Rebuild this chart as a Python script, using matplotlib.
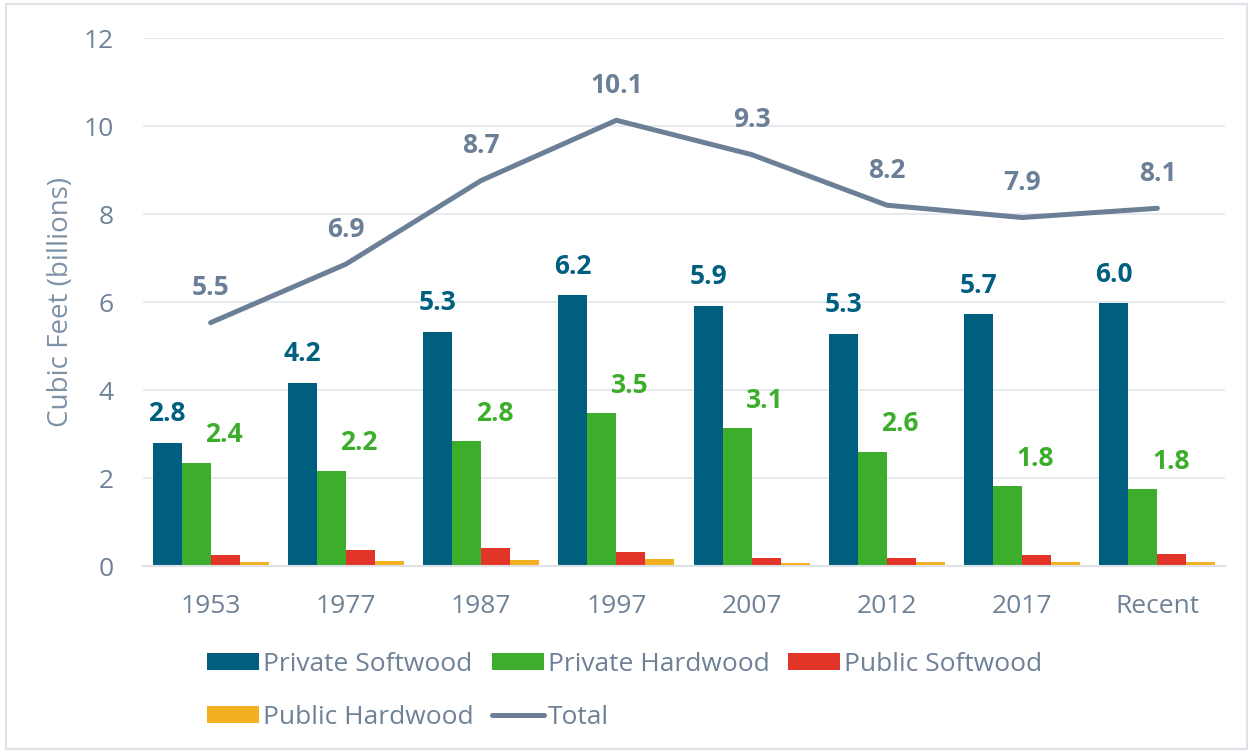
import numpy as np
import matplotlib
matplotlib.use('Agg')
import matplotlib.pyplot as plt
from matplotlib.patches import Rectangle

plt.rcParams['font.family'] = ['Open Sans', 'DejaVu Sans']

years = ['1953', '1977', '1987', '1997', '2007', '2012', '2017', 'Recent']
private_soft = [2.8, 4.17, 5.32, 6.15, 5.91, 5.27, 5.72, 5.97]
private_hard = [2.35, 2.17, 2.83, 3.48, 3.13, 2.6, 1.81, 1.75]
public_soft = [0.24, 0.37, 0.42, 0.31, 0.18, 0.19, 0.26, 0.28]
public_hard = [0.1, 0.12, 0.14, 0.16, 0.07, 0.09, 0.09, 0.1]
total = [5.53, 6.86, 8.76, 10.13, 9.35, 8.2, 7.92, 8.13]

soft_labels = ['2.8', '4.2', '5.3', '6.2', '5.9', '5.3', '5.7', '6.0']
hard_labels = ['2.4', '2.2', '2.8', '3.5', '3.1', '2.6', '1.8', '1.8']
total_labels = ['5.5', '6.9', '8.7', '10.1', '9.3', '8.2', '7.9', '8.1']

C_PS = '#005f7f'
C_PH = '#3dae2b'
C_US = '#e3342a'
C_UH = '#f5b021'
C_TOT = '#6b7f96'
TXT = '#6e8196'

fig = plt.figure(figsize=(12.53, 7.53), dpi=100)
ax = fig.add_axes([143 / 1253, 1 - 566 / 753, 1082 / 1253, 528 / 753])
fig.add_artist(Rectangle((6 / 1253, 4 / 753), 1241 / 1253, 745 / 753, transform=fig.transFigure,
                         fill=False, edgecolor='#dde3e8', lw=1.5))

x = np.arange(len(years))
w = 0.214
b1 = ax.bar(x - 1.5 * w, private_soft, w, color=C_PS, label='Private Softwood')
b2 = ax.bar(x - 0.5 * w, private_hard, w, color=C_PH, label='Private Hardwood')
b3 = ax.bar(x + 0.5 * w, public_soft, w, color=C_US, label='Public Softwood')
b4 = ax.bar(x + 1.5 * w, public_hard, w, color=C_UH, label='Public Hardwood')
ln, = ax.plot(x, total, color=C_TOT, lw=3.6, label='Total',
              solid_capstyle='round', solid_joinstyle='round')

# value labels
for i in range(len(years)):
    ax.annotate(soft_labels[i], (x[i] - 1.5 * w, private_soft[i]), xytext=(0, 21),
                textcoords='offset points', ha='center', va='center',
                fontsize=19, fontweight='bold', color=C_PS)
    ax.annotate(hard_labels[i], (x[i] - 0.5 * w, private_hard[i]), xytext=(20, 20),
                textcoords='offset points', ha='center', va='center',
                fontsize=19, fontweight='bold', color=C_PH)
    ax.annotate(total_labels[i], (x[i], total[i]), xytext=(0, 25),
                textcoords='offset points', ha='center', va='center',
                fontsize=19, fontweight='bold', color=C_TOT)

ax.set_xlim(-0.5, len(years) - 0.5)
ax.set_ylim(0, 12)
ax.set_yticks(range(0, 13, 2))
ax.set_xticks(x)
ax.set_xticklabels(years)
ax.tick_params(axis='both', length=0, labelsize=19, colors=TXT)
ax.tick_params(axis='y', pad=21)
ax.tick_params(axis='x', pad=20)
ax.grid(axis='y', color='#e1e5ea', lw=1.2)
ax.set_axisbelow(True)
for s in ['top', 'right', 'left']:
    ax.spines[s].set_visible(False)
ax.spines['bottom'].set_color('#dfe3e8')
ax.spines['bottom'].set_linewidth(1.5)
ax.set_ylabel('Cubic Feet (billions)', fontsize=20, color='#7d92a6')
ax.yaxis.set_label_coords(-68 / 1082, 0.5)

# ncol=3 fills column-wise, so reorder to get the two rows as in the original
handles = [b1, b4, b2, ln, b3]
labels = ['Private Softwood', 'Public Hardwood', 'Private Hardwood', 'Total', 'Public Softwood']
fig.legend(handles, labels, loc='upper left', bbox_to_anchor=(207 / 1253, 1 - 652 / 753),
           ncol=3, frameon=False, fontsize=19, labelcolor=TXT, handlelength=1.97,
           handleheight=0.6, handletextpad=0.15, columnspacing=0.7, labelspacing=1.05,
           borderpad=0, borderaxespad=0)

fig.savefig('out.png', dpi=100)
